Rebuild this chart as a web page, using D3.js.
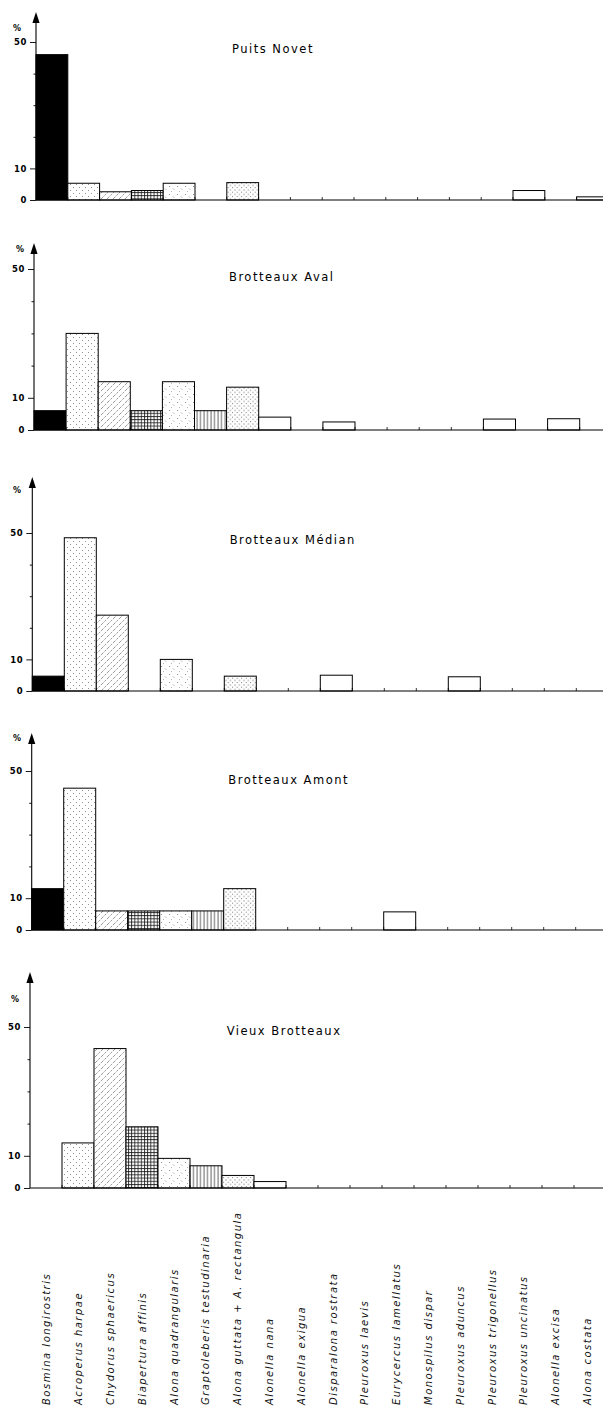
<!DOCTYPE html>
<html><head><meta charset="utf-8">
<script src="https://cdn.jsdelivr.net/npm/d3@7"></script>
<style>body{margin:0;background:#fff} svg{display:block}</style>
</head><body>
<svg id="chart" width="603" height="1409"></svg>
<script>
const species = ["Bosmina longirostris","Acroperus harpae","Chydorus sphaericus","Biapertura affinis",
  "Alona quadrangularis","Graptoleberis testudinaria","Alona guttata + A. rectangula","Alonella nana",
  "Alonella exigua","Disparalona rostrata","Pleuroxus laevis","Eurycercus lamellatus","Monospilus dispar",
  "Pleuroxus aduncus","Pleuroxus trigonellus","Pleuroxus uncinatus","Alonella excisa","Alona costata"];
const stations = ["Puits Novet","Brotteaux Aval","Brotteaux Médian","Brotteaux Amont","Vieux Brotteaux"];
const puitsNovet      = [46, 5.3, 2.6, 3, 5.3, 0, 5.5, 0, 0, 0, 0, 0, 0, 0, 0, 3, 0, 1];
const brotteauxAval   = [6, 30, 15, 6, 15, 6, 13.3, 4, 0, 2.5, 0, 0, 0, 0, 3.4, 0, 3.5, 0];
const brotteauxMedian = [4.7, 48.5, 24, 0, 10, 0, 4.7, 0, 0, 5, 0, 0, 0, 4.5, 0, 0, 0, 0];
const brotteauxAmont  = [13, 44.6, 6, 6, 6, 6, 13, 0, 0, 0, 0, 5.7, 0, 0, 0, 0, 0, 0];
const vieuxBrotteaux  = [0, 14, 43.3, 19, 9.2, 6.9, 3.9, 2, 0, 0, 0, 0, 0, 0, 0, 0, 0, 0];
const series = [puitsNovet, brotteauxAval, brotteauxMedian, brotteauxAmont, vieuxBrotteaux];
const yTicks = [0, 10, 20, 30, 40, 50];
const yLabelled = [0, 10, 50];

// layout of each panel (pixels)
const layout = [
  {x0:36,   base:200,  top:42,   band:31.8, tip:12,  pctX:17, pctY:28,  tx:232,   ty:49},
  {x0:34,   base:430,  top:269,  band:32.1, tip:243, pctX:20, pctY:249, tx:229,   ty:277},
  {x0:32.3, base:691,  top:533,  band:32,   tip:477, pctX:17, pctY:490, tx:229.7, ty:540},
  {x0:31.7, base:930,  top:771,  band:32,   tip:733, pctX:17, pctY:738, tx:228.3, ty:780},
  {x0:30,   base:1188, top:1027, band:32,   tip:972, pctX:15, pctY:999, tx:226.7, ty:1031}
];

const W = 603;
const svg = d3.select("#chart");
const defs = svg.append("defs");

function pat(id, w, h, draw) {
  const p = defs.append("pattern").attr("id", id).attr("patternUnits","userSpaceOnUse")
    .attr("width", w).attr("height", h);
  p.append("rect").attr("width", w).attr("height", h).attr("fill", "#fff");
  draw(p);
}
pat("p1", 6, 6, p => {
  p.append("rect").attr("x",1).attr("y",1).attr("width",0.9).attr("height",0.9).attr("fill","#777");
  p.append("rect").attr("x",4).attr("y",4).attr("width",0.9).attr("height",0.9).attr("fill","#777");
});
pat("p2", 6, 6, p => {
  p.append("path").attr("d","M0,6L6,0M-1,1L1,-1M5,7L7,5").attr("stroke","#444")
    .attr("stroke-width",0.55).attr("stroke-dasharray","2.2 1.2");
});
pat("p3", 3.2, 3.2, p => {
  p.append("path").attr("d","M0,0.5H3.2M0.5,0V3.2").attr("stroke","#111").attr("stroke-width",0.8);
});
pat("p4", 8, 8, p => {
  p.append("rect").attr("x",1).attr("y",2).attr("width",0.9).attr("height",0.9).attr("fill","#777");
  p.append("path").attr("d","M5,4.5l1.2,1.2").attr("stroke","#777").attr("stroke-width",0.7);
  p.append("rect").attr("x",3).attr("y",7).attr("width",0.8).attr("height",0.8).attr("fill","#888");
});
pat("p5", 3.5, 4, p => {
  p.append("path").attr("d","M1,0V4").attr("stroke","#222").attr("stroke-width",0.75);
});
pat("p6", 4.5, 4.5, p => {
  p.append("rect").attr("x",0.5).attr("y",0.5).attr("width",0.9).attr("height",0.9).attr("fill","#444");
  p.append("rect").attr("x",2.75).attr("y",2.75).attr("width",0.9).attr("height",0.9).attr("fill","#555");
});
const fills = ["#000","url(#p1)","url(#p2)","url(#p3)","url(#p4)","url(#p5)","url(#p6)"];
const fillFor = i => i < fills.length ? fills[i] : "#fff";

series.forEach((vals, k) => {
  const L = layout[k];
  const g = svg.append("g");
  const x = d3.scaleBand().domain(species).range([L.x0, L.x0 + L.band * species.length]).padding(0);
  const y = d3.scaleLinear().domain([0, 50]).range([L.base, L.top]);

  // bars
  g.selectAll("rect.bar").data(species.map((s, i) => ({s, i, v: vals[i]})).filter(d => d.v > 0))
    .enter().append("rect").attr("class","bar")
    .attr("x", d => x(d.s)).attr("width", x.bandwidth())
    .attr("y", d => y(d.v)).attr("height", d => y(0) - y(d.v))
    .attr("fill", d => fillFor(d.i)).attr("stroke","#000").attr("stroke-width",1);

  // x baseline + small boundary ticks
  g.append("line").attr("x1", L.x0).attr("x2", W).attr("y1", y(0)).attr("y2", y(0))
    .attr("stroke","#000").attr("stroke-width",1.2);
  g.selectAll("line.bt").data(species.slice(1)).enter().append("line").attr("class","bt")
    .attr("x1", d => x(d)).attr("x2", d => x(d)).attr("y1", y(0)).attr("y2", y(0) - 3)
    .attr("stroke","#000").attr("stroke-width",0.8);

  // y axis line and arrow
  g.append("line").attr("x1", L.x0).attr("x2", L.x0).attr("y1", y(0)).attr("y2", L.tip + 8)
    .attr("stroke","#000").attr("stroke-width",1.1);
  g.append("path").attr("d", `M${L.x0},${L.tip}L${L.x0 - 3.6},${L.tip + 11}L${L.x0 + 3.6},${L.tip + 11}Z`)
    .attr("fill","#000");

  // y ticks via d3 axis
  const ax = d3.axisLeft(y).tickValues(yTicks).tickSize(0).tickFormat(d => yLabelled.includes(d) ? d : "");
  const ag = g.append("g").attr("transform", `translate(${L.x0},0)`).call(ax);
  ag.select(".domain").remove();
  ag.selectAll(".tick line").attr("x2", d => yLabelled.includes(d) ? -6 : -2.5)
    .attr("stroke","#000").attr("stroke-width",0.9);
  ag.selectAll(".tick text").attr("x", -9).attr("font-family","DejaVu Sans").attr("font-size", 8.5)
    .attr("font-weight","bold").attr("letter-spacing", 0.6).attr("fill","#000");

  g.append("text").attr("x", L.pctX).attr("y", L.pctY).attr("dy","0.35em").attr("text-anchor","middle")
    .attr("font-family","DejaVu Sans").attr("font-size",8).attr("font-weight","bold")
    .attr("fill","#000").text("%");

  // title
  g.append("text").attr("x", L.tx).attr("y", L.ty).attr("dy","0.36em")
    .attr("font-family","DejaVu Sans").attr("font-size",11.5).attr("letter-spacing",1.5)
    .attr("fill","#000").text(stations[k]);
});

// species labels
const xl = d3.scaleBand().domain(species).range([31, 31 + 31.8 * species.length]);
svg.append("g").selectAll("text").data(species).enter().append("text")
  .attr("transform", d => `translate(${xl(d) + xl.bandwidth() / 2 + 3.5},1405) rotate(-90)`)
  .attr("font-family","DejaVu Sans").attr("font-style","italic").attr("font-size",10)
  .attr("letter-spacing",1.5).attr("fill","#111").text(d => d);
</script>
</body></html>
